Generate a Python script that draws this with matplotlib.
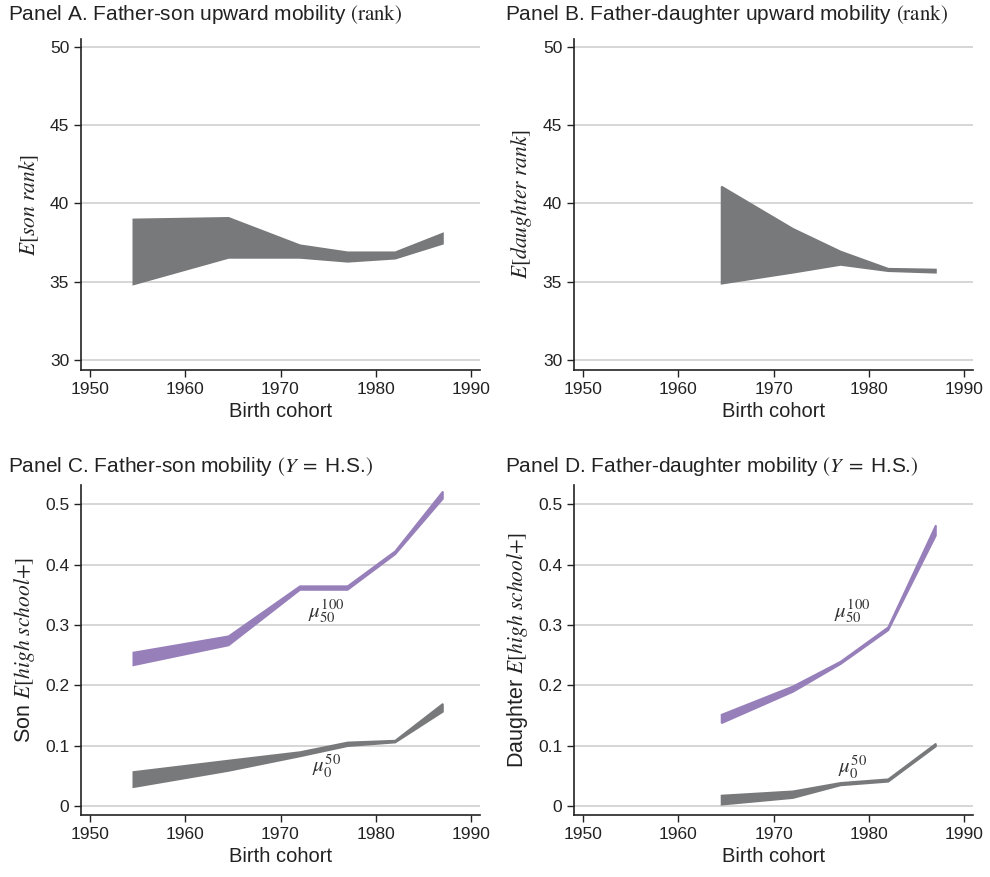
import numpy as np
import matplotlib
matplotlib.use("Agg")
import matplotlib.pyplot as plt

plt.rcParams['font.family'] = ['Liberation Sans', 'DejaVu Sans']
plt.rcParams['mathtext.fontset'] = 'stix'

GRAY = '#78797b'
PURPLE = '#977fba'

# ---- data ----
# Panel A: father-son rank, band bounds
cohort_a = [1954.5, 1964.5, 1972, 1977, 1982, 1987]
son_rank_hi = [39.0, 39.1, 37.35, 36.9, 36.9, 38.1]
son_rank_lo = [34.85, 36.55, 36.55, 36.3, 36.5, 37.45]

# Panel B: father-daughter rank
cohort_b = [1964.5, 1972, 1977, 1982, 1987]
dau_rank_hi = [41.1, 38.4, 36.95, 35.85, 35.8]
dau_rank_lo = [34.9, 35.6, 36.1, 35.7, 35.6]

# Panel C: father-son high school
son_mu100_hi = [0.255, 0.282, 0.365, 0.365, 0.423, 0.522]
son_mu100_lo = [0.234, 0.267, 0.359, 0.359, 0.418, 0.510]
son_mu0_hi = [0.057, 0.076, 0.090, 0.106, 0.109, 0.170]
son_mu0_lo = [0.032, 0.059, 0.083, 0.100, 0.106, 0.157]

# Panel D: father-daughter high school
dau_mu100_hi = [0.152, 0.199, 0.240, 0.297, 0.466]
dau_mu100_lo = [0.138, 0.190, 0.236, 0.292, 0.449]
dau_mu0_hi = [0.018, 0.025, 0.039, 0.045, 0.104]
dau_mu0_lo = [0.003, 0.014, 0.035, 0.041, 0.0995]

xticks = [1950, 1960, 1970, 1980, 1990]

fig = plt.figure(figsize=(9.9, 8.77), dpi=100)
W, H = 990, 877

def add_ax(x0, y_top, x1, y_bot):
    return fig.add_axes([x0 / W, 1 - y_bot / H, (x1 - x0) / W, (y_bot - y_top) / H])

axA = add_ax(81, 39, 480, 370)
axB = add_ax(574, 39, 973, 370)
axC = add_ax(81, 485, 480, 815)
axD = add_ax(574, 485, 973, 815)

def style(ax, ylim, yticks, yticklabels):
    ax.set_xlim(1949.05, 1990.95)
    ax.set_ylim(*ylim)
    ax.set_xticks(xticks)
    ax.set_yticks(yticks)
    ax.set_yticklabels(yticklabels)
    ax.tick_params(labelsize=12.5, direction='out', length=5, width=1, colors='#222222')
    for s in ['top', 'right']:
        ax.spines[s].set_visible(False)
    for s in ['left', 'bottom']:
        ax.spines[s].set_linewidth(1.2)
        ax.spines[s].set_color('#222222')
    ax.yaxis.grid(True, color='#cfcfcf', linewidth=1.2)
    ax.set_axisbelow(True)
    ax.set_xlabel('Birth cohort', fontsize=14.5, labelpad=4, color='#222222')

rank_ticks = [30, 35, 40, 45, 50]
style(axA, (29.35, 50.5), rank_ticks, [str(t) for t in rank_ticks])
style(axB, (29.35, 50.5), rank_ticks, [str(t) for t in rank_ticks])
hs_ticks = [0, 0.1, 0.2, 0.3, 0.4, 0.5]
hs_labels = ['0', '0.1', '0.2', '0.3', '0.4', '0.5']
style(axC, (-0.015, 0.532), hs_ticks, hs_labels)
style(axD, (-0.015, 0.532), hs_ticks, hs_labels)

def band(ax, x, lo, hi, c):
    ax.fill_between(x, lo, hi, facecolor=c, edgecolor=c, lw=1.3, joinstyle='miter')

band(axA, cohort_a, son_rank_lo, son_rank_hi, GRAY)
band(axB, cohort_b, dau_rank_lo, dau_rank_hi, GRAY)
band(axC, cohort_a, son_mu100_lo, son_mu100_hi, PURPLE)
band(axC, cohort_a, son_mu0_lo, son_mu0_hi, GRAY)
band(axD, cohort_b, dau_mu100_lo, dau_mu100_hi, PURPLE)
band(axD, cohort_b, dau_mu0_lo, dau_mu0_hi, GRAY)

# curve labels
lab_kw = dict(fontsize=15, color='#333333', ha='center', va='center')
axC.text(1974.8, 0.322, r'$\mu_{50}^{100}$', **lab_kw)
axC.text(1974.8, 0.066, r'$\mu_{0}^{50}$', **lab_kw)
axD.text(1978.3, 0.322, r'$\mu_{50}^{100}$', **lab_kw)
axD.text(1978.3, 0.064, r'$\mu_{0}^{50}$', **lab_kw)

# y labels
yl_kw = dict(fontsize=15.5, color='#222222', labelpad=6)
axA.set_ylabel(r'$E[\mathit{son\ rank}]$', **yl_kw)
axB.set_ylabel(r'$E[\mathit{daughter\ rank}]$', **yl_kw)
axC.set_ylabel(r'Son $E[\mathit{high\ school}\mathrm{+}]$', **yl_kw)
axD.set_ylabel(r'Daughter $E[\mathit{high\ school}\mathrm{+}]$', **yl_kw)

# panel titles
t_kw = dict(fontsize=15, color='#222222', ha='left', va='center')
fig.text(8 / W, 1 - 15 / H, r'Panel A. Father-son upward mobility $(\mathrm{rank})$', **t_kw)
fig.text(505 / W, 1 - 15 / H, r'Panel B. Father-daughter upward mobility $(\mathrm{rank})$', **t_kw)
fig.text(8 / W, 1 - 466 / H, r'Panel C. Father-son mobility $(Y\;=\;$H.S.$)$', **t_kw)
fig.text(505 / W, 1 - 466 / H, r'Panel D. Father-daughter mobility $(Y\;=\;$H.S.$)$', **t_kw)

fig.savefig('out.png', dpi=100)
